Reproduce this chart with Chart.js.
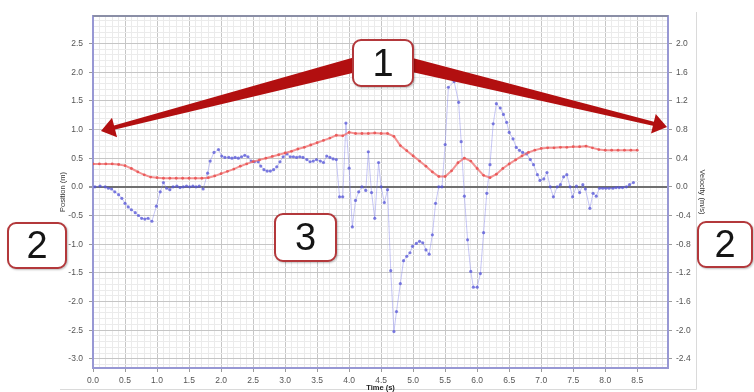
<!DOCTYPE html>
<html>
<head>
<meta charset="utf-8">
<script src="https://cdn.jsdelivr.net/npm/chart.js@4.4.1/dist/chart.umd.min.js"></script>
<style>
  html, body { margin: 0; padding: 0; background: #fff; }
  #wrap { position: relative; width: 754px; height: 392px; overflow: hidden; }
  canvas { position: absolute; left: 0; top: 0; }
  .callout {
    position: absolute; box-sizing: border-box; background: #fff;
    border: 2px solid #b3383b; border-radius: 9px;
    font-family: 'Liberation Sans', Arial, sans-serif; font-size: 38px; color: #151515;
    display: flex; align-items: center; justify-content: center;
    box-shadow: 1px 1px 2px rgba(0,0,0,0.25);
  }
</style>
</head>
<body>
<div id="wrap">
  <canvas id="grafico" width="754" height="392"></canvas>
  <div class="callout" style="left:352px;top:39px;width:62px;height:48px">1</div>
  <div class="callout" style="left:7px;top:222px;width:60px;height:47px">2</div>
  <div class="callout" style="left:274px;top:213px;width:63px;height:49px">3</div>
  <div class="callout" style="left:697px;top:221px;width:56px;height:47px">2</div>
</div>
<script>
// posicao (m) - curva vermelha
const tempoPosicao = [0.0, 0.1, 0.2, 0.3, 0.4, 0.5, 0.6, 0.7, 0.8, 0.9,
  1.0, 1.1, 1.2, 1.3, 1.4, 1.5, 1.6, 1.7, 1.8, 1.9,
  2.0, 2.1, 2.2, 2.3, 2.4, 2.5, 2.6, 2.7, 2.8, 2.9,
  3.0, 3.1, 3.2, 3.3, 3.4, 3.5, 3.6, 3.7, 3.8, 3.9,
  4.0, 4.1, 4.2, 4.3, 4.4, 4.5, 4.6, 4.7, 4.8, 4.9,
  5.0, 5.1, 5.2, 5.3, 5.4, 5.5, 5.6, 5.7, 5.8, 5.9,
  6.0, 6.1, 6.2, 6.3, 6.4, 6.5, 6.6, 6.7, 6.8, 6.9,
  7.0, 7.1, 7.2, 7.3, 7.4, 7.5, 7.6, 7.7, 7.8, 7.9,
  8.0, 8.1, 8.2, 8.3, 8.4, 8.5]
const posicao = [0.40, 0.40, 0.40, 0.40, 0.39, 0.37, 0.32, 0.26, 0.21, 0.17,
  0.16, 0.15, 0.15, 0.15, 0.15, 0.15, 0.15, 0.15, 0.16, 0.19,
  0.23, 0.27, 0.31, 0.36, 0.40, 0.44, 0.47, 0.50, 0.53, 0.56,
  0.59, 0.62, 0.66, 0.69, 0.73, 0.77, 0.81, 0.85, 0.90, 0.89,
  0.95, 0.93, 0.93, 0.93, 0.94, 0.93, 0.93, 0.88, 0.72, 0.63,
  0.54, 0.45, 0.36, 0.26, 0.18, 0.18, 0.28, 0.42, 0.50, 0.45,
  0.32, 0.20, 0.16, 0.22, 0.32, 0.40, 0.47, 0.54, 0.60, 0.64,
  0.67, 0.68, 0.68, 0.69, 0.69, 0.70, 0.70, 0.71, 0.68, 0.65,
  0.64, 0.64, 0.64, 0.64, 0.64, 0.64]

// velocidade (m/s) - curva azul
const tempoVelocidade = [0.03, 0.11, 0.19, 0.24, 0.29, 0.34, 0.40, 0.45, 0.50, 0.55,
  0.60, 0.66, 0.71, 0.76, 0.81, 0.86, 0.92, 0.99, 1.05, 1.10,
  1.15, 1.20, 1.25, 1.31, 1.36, 1.41, 1.46, 1.51, 1.56, 1.61,
  1.66, 1.72, 1.79, 1.83, 1.89, 1.96, 2.01, 2.06, 2.12, 2.17,
  2.22, 2.27, 2.32, 2.37, 2.42, 2.47, 2.52, 2.58, 2.62, 2.67,
  2.72, 2.77, 2.82, 2.87, 2.92, 2.97, 3.03, 3.08, 3.13, 3.18,
  3.23, 3.28, 3.34, 3.39, 3.44, 3.49, 3.55, 3.60, 3.65, 3.70,
  3.75, 3.80, 3.85, 3.90, 3.95, 4.00, 4.05, 4.10, 4.15, 4.20,
  4.26, 4.30, 4.35, 4.40, 4.46, 4.50, 4.55, 4.60, 4.65, 4.70,
  4.74, 4.80, 4.85, 4.90, 4.95, 4.99, 5.05, 5.10, 5.15, 5.20,
  5.25, 5.30, 5.35, 5.40, 5.45, 5.50, 5.55, 5.64, 5.71, 5.75,
  5.80, 5.85, 5.90, 5.94, 6.00, 6.05, 6.10, 6.15, 6.20, 6.25,
  6.30, 6.36, 6.41, 6.46, 6.50, 6.56, 6.61, 6.66, 6.71, 6.77,
  6.83, 6.88, 6.94, 6.98, 7.04, 7.09, 7.14, 7.19, 7.25, 7.30,
  7.35, 7.40, 7.45, 7.49, 7.55, 7.60, 7.65, 7.69, 7.76, 7.81,
  7.86, 7.91, 7.96, 8.01, 8.06, 8.12, 8.17, 8.22, 8.27, 8.33,
  8.38, 8.44]
const velocidade = [0.00, 0.01, 0.00, -0.02, -0.03, -0.07, -0.11, -0.16, -0.23, -0.28,
  -0.32, -0.36, -0.40, -0.44, -0.45, -0.44, -0.48, -0.27, -0.07, 0.06,
  -0.02, -0.04, 0.00, 0.01, -0.01, 0.00, 0.01, 0.00, 0.01, 0.00,
  0.01, -0.03, 0.19, 0.36, 0.48, 0.52, 0.43, 0.41, 0.41, 0.40,
  0.41, 0.40, 0.42, 0.44, 0.42, 0.36, 0.35, 0.35, 0.29, 0.24,
  0.22, 0.22, 0.24, 0.28, 0.35, 0.42, 0.46, 0.42, 0.42, 0.41,
  0.42, 0.41, 0.38, 0.35, 0.36, 0.38, 0.36, 0.34, 0.43, 0.41,
  0.39, 0.38, -0.14, -0.14, 0.89, 0.26, -0.56, -0.19, -0.07, 0.00,
  -0.05, 0.49, -0.08, -0.44, 0.34, 0.00, -0.22, -0.04, -1.17, -2.02,
  -1.74, -1.35, -1.03, -0.97, -0.92, -0.83, -0.79, -0.76, -0.78, -0.88,
  -0.94, -0.67, -0.23, 0.00, 0.00, 0.59, 1.39, 1.47, 1.18, 0.63,
  -0.13, -0.74, -1.18, -1.40, -1.40, -1.21, -0.64, -0.09, 0.31, 0.88,
  1.16, 1.10, 1.01, 0.90, 0.76, 0.67, 0.55, 0.51, 0.48, 0.46,
  0.38, 0.31, 0.17, 0.09, 0.11, 0.20, 0.00, -0.14, 0.00, 0.03,
  0.14, 0.17, 0.00, -0.14, 0.01, -0.08, 0.03, -0.03, -0.30, -0.09,
  -0.13, -0.02, -0.02, -0.02, -0.02, -0.02, -0.01, -0.01, -0.01, 0.00,
  0.03, 0.06]

// rotulos dos eixos
const ticksTempo = [0.0, 0.5, 1.0, 1.5, 2.0, 2.5, 3.0, 3.5, 4.0, 4.5, 5.0, 5.5, 6.0, 6.5, 7.0, 7.5, 8.0, 8.5]
const ticksPosicao = [-3.0, -2.5, -2.0, -1.5, -1.0, -0.5, 0.0, 0.5, 1.0, 1.5, 2.0, 2.5]
const ticksVelocidade = [-2.4, -2.0, -1.6, -1.2, -0.8, -0.4, 0.0, 0.4, 0.8, 1.2, 1.6, 2.0]

function grade(min, max) {
    // linhas finas a cada 0.1
    const lista = []
    for (let i = Math.ceil(min * 10); i <= Math.floor(max * 10); i++) lista.push(i / 10)
    return lista
}

function ehMaior(valor, lista) {
    return lista.some(v => Math.abs(v - valor) < 1e-6)
}

function desenharSeta(ctx, sx, sy, tx, ty, w0, w1, hl, hw) {
    const dx = tx - sx, dy = ty - sy
    const len = Math.hypot(dx, dy)
    const ux = dx / len, uy = dy / len
    const nx = -uy, ny = ux
    const bx = tx - ux * hl, by = ty - uy * hl
    ctx.beginPath()
    ctx.moveTo(sx + nx * w0 / 2, sy + ny * w0 / 2)
    ctx.lineTo(bx + nx * w1 / 2, by + ny * w1 / 2)
    ctx.lineTo(bx + nx * hw, by + ny * hw)
    ctx.lineTo(tx, ty)
    ctx.lineTo(bx - nx * hw, by - ny * hw)
    ctx.lineTo(bx - nx * w1 / 2, by - ny * w1 / 2)
    ctx.lineTo(sx - nx * w0 / 2, sy - ny * w0 / 2)
    ctx.closePath()
    ctx.fill()
}

const moldura = {
    id: 'moldura',
    beforeDraw(chart) {
        const ctx = chart.ctx
        ctx.save()
        ctx.strokeStyle = '#dadada'
        ctx.lineWidth = 1
        ctx.beginPath()
        ctx.moveTo(696.5, 12)
        ctx.lineTo(696.5, 389.5)
        ctx.lineTo(60, 389.5)
        ctx.stroke()
        ctx.restore()
    },
    afterDraw(chart) {
        const ctx = chart.ctx
        const a = chart.chartArea
        ctx.save()
        ctx.strokeStyle = '#8a8ea6'
        ctx.lineWidth = 2
        ctx.beginPath()
        ctx.moveTo(a.left, a.top)
        ctx.lineTo(a.right, a.top)
        ctx.stroke()
        ctx.fillStyle = '#b20f10'
        desenharSeta(ctx, 358, 64, 101, 131, 15, 4, 14, 10)
        desenharSeta(ctx, 408, 64, 667, 127, 14, 4, 14, 10)
        ctx.restore()
    }
}

document.addEventListener("DOMContentLoaded", () => {
    const ctxGrafico = document.getElementById('grafico')

    const pontosPosicao = tempoPosicao.map((t, i) => ({ x: t, y: posicao[i] }))
    const pontosVelocidade = tempoVelocidade.map((t, i) => ({ x: t, y: velocidade[i] }))

    Chart.defaults.font.family = "'Liberation Sans', Arial, sans-serif"

    new Chart(ctxGrafico, {
        type: 'line',
        data: {
            datasets: [
            {
                label: 'Position',
                data: pontosPosicao,
                yAxisID: 'y',
                borderColor: 'rgba(240, 110, 110, 0.75)',
                borderWidth: 2,
                pointRadius: 1.4,
                pointBorderWidth: 0,
                pointBackgroundColor: 'rgba(232, 80, 80, 0.85)',
                tension: 0
            },
            {
                label: 'Velocity',
                data: pontosVelocidade,
                yAxisID: 'y1',
                borderColor: 'rgba(130, 130, 235, 0.45)',
                borderWidth: 1,
                pointRadius: 1.6,
                pointBorderWidth: 0,
                pointBackgroundColor: 'rgba(85, 85, 215, 0.75)',
                tension: 0
            }
            ]
        },
        options: {
            responsive: false,
            animation: false,
            layout: { padding: { top: 16, left: 0, right: 0, bottom: 0 } },
            plugins: {
                legend: { display: false },
                tooltip: { enabled: false }
            },
            scales: {
                x: {
                    type: 'linear',
                    min: 0,
                    max: 8.98,
                    afterBuildTicks: s => { s.ticks = grade(0, 8.9).map(v => ({ value: v })) },
                    afterFit: s => { s.height = 24 },
                    ticks: {
                        autoSkip: false,
                        maxRotation: 0,
                        padding: 4,
                        color: '#555',
                        font: { size: 8.5 },
                        callback: v => ehMaior(v, ticksTempo) ? v.toFixed(1) : ''
                    },
                    grid: {
                        color: c => ehMaior(c.tick.value, ticksTempo) ? '#c6c6c6' : '#ebebeb',
                        tickColor: c => ehMaior(c.tick.value, ticksTempo) ? '#9a9a9a' : 'rgba(0,0,0,0)',
                        tickLength: 4
                    },
                    border: { color: '#9898d4', width: 2 },
                    title: {
                        display: true,
                        text: 'Time (s)',
                        color: '#222',
                        font: { size: 7.5, weight: 'bold' },
                        padding: { top: 0, bottom: 0 }
                    }
                },
                y: {
                    type: 'linear',
                    position: 'left',
                    min: -3.16,
                    max: 2.98,
                    afterBuildTicks: s => { s.ticks = grade(-3.1, 2.9).map(v => ({ value: v })) },
                    afterFit: s => { s.width = 93 },
                    ticks: {
                        autoSkip: false,
                        padding: 6,
                        color: '#555',
                        font: { size: 8.5 },
                        callback: v => ehMaior(v, ticksPosicao) ? v.toFixed(1) : ''
                    },
                    grid: {
                        color: c => Math.abs(c.tick.value) < 1e-6 ? '#707070' : (ehMaior(c.tick.value, ticksPosicao) ? '#c6c6c6' : '#ebebeb'),
                        lineWidth: c => Math.abs(c.tick.value) < 1e-6 ? 2 : 1,
                        tickColor: c => ehMaior(c.tick.value, ticksPosicao) ? '#9a9a9a' : 'rgba(0,0,0,0)',
                        tickLength: 4
                    },
                    border: { color: '#9898d4', width: 2 },
                    title: {
                        display: true,
                        text: 'Position (m)',
                        color: '#333',
                        font: { size: 7.5 },
                        padding: { top: 58, bottom: 0 }
                    }
                },
                y1: {
                    type: 'linear',
                    position: 'right',
                    min: -2.528,
                    max: 2.384,
                    afterBuildTicks: s => { s.ticks = ticksVelocidade.map(v => ({ value: v })) },
                    afterFit: s => { s.width = 86 },
                    ticks: {
                        autoSkip: false,
                        padding: 4,
                        color: '#555',
                        font: { size: 8.5 },
                        callback: v => v.toFixed(1)
                    },
                    grid: {
                        drawOnChartArea: false,
                        tickColor: '#9a9a9a',
                        tickLength: 4
                    },
                    border: { color: '#9898d4', width: 2 },
                    title: {
                        display: true,
                        text: 'Velocity (m/s)',
                        color: '#333',
                        font: { size: 7.5 },
                        padding: { top: 47, bottom: 0 }
                    }
                }
            }
        },
        plugins: [moldura]
    })
})
</script>
</body>
</html>
